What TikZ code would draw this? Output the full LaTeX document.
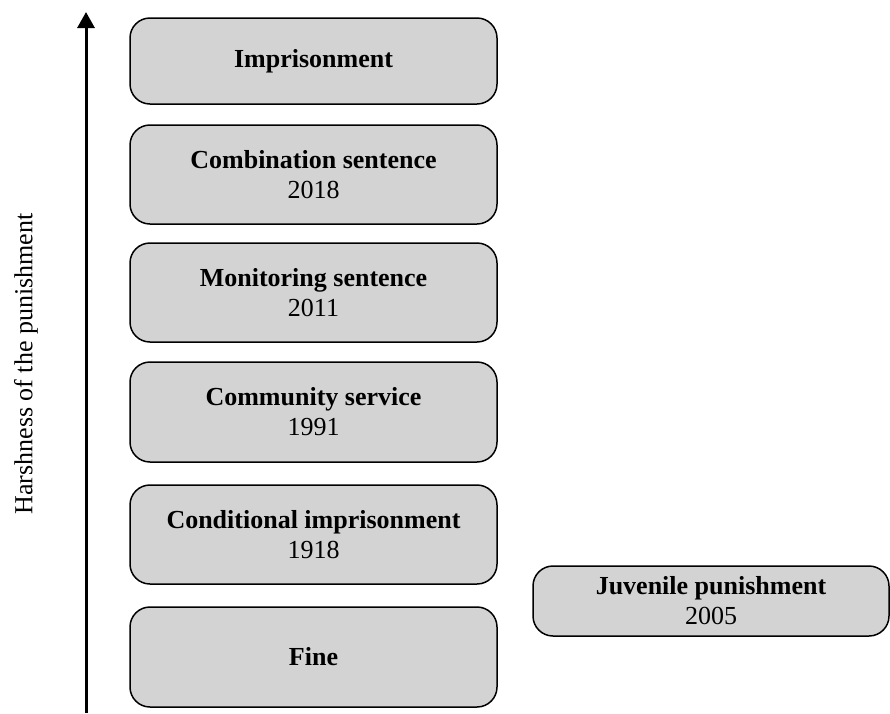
\documentclass[tikz,border=0pt]{standalone}
\usepackage{fontspec}
\setmainfont{Liberation Serif}
\usetikzlibrary{arrows.meta}
\definecolor{boxgray}{HTML}{D3D3D3}
\tikzset{
  pbox/.style={draw=black, fill=boxgray, line width=1.5pt, rounded corners=20pt,
    align=center, inner sep=0pt, font=\fontsize{26}{30}\selectfont},
  axisarrow/.style={line width=3pt, -{Triangle[length=16pt,width=17pt]}}
}
\begin{document}
\begin{tikzpicture}[x=1pt,y=-1pt]
\useasboundingbox (0,0) rectangle (890,713);
\node[pbox, minimum width=367pt, minimum height=86pt] (imp) at (313.5,61) {\textbf{Imprisonment}};
\node[pbox, minimum width=367pt, minimum height=99pt] (comb) at (313.5,174.5) {\textbf{Combination sentence}\\2018};
\node[pbox, minimum width=367pt, minimum height=99pt] (mon) at (313.5,292.5) {\textbf{Monitoring sentence}\\2011};
\node[pbox, minimum width=367pt, minimum height=100pt] (com) at (313.5,412) {\textbf{Community service}\\1991};
\node[pbox, minimum width=367pt, minimum height=99pt] (cond) at (313.5,534.5) {\textbf{Conditional imprisonment}\\1918};
\node[pbox, minimum width=367pt, minimum height=100pt] (fine) at (313.5,657) {\textbf{Fine}};
\node[pbox, minimum width=356pt, minimum height=70pt] (juv) at (711,601) {\textbf{Juvenile punishment}\\2005};
\coordinate (abot) at (86,713);
\coordinate (atop) at (86,12);
\draw[axisarrow] (abot) -- (atop);
\node[rotate=90, font=\fontsize{26}{30}\selectfont, inner sep=0pt] (lab) at (26,364) {Harshness of the punishment};
\end{tikzpicture}
\end{document}
